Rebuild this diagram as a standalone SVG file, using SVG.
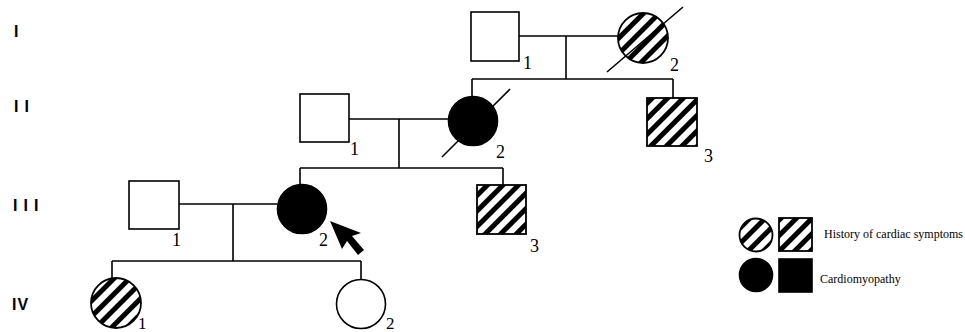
<svg xmlns="http://www.w3.org/2000/svg" width="965" height="332" viewBox="0 0 965 332">
<defs>
<pattern id="hatch" patternUnits="userSpaceOnUse" width="11" height="11" patternTransform="rotate(45)">
<rect width="11" height="11" fill="#fff"/>
<rect width="5" height="11" fill="#000"/>
</pattern>
</defs>
<style>
.line{stroke:#000;stroke-width:1.6;fill:none}
.open{fill:#fff;stroke:#000;stroke-width:1.6}
.hatch{fill:url(#hatch);stroke:#000;stroke-width:1.8}
.solid{fill:#000;stroke:#000;stroke-width:1.6}
.num{font-family:"Liberation Serif",serif;font-size:18px;fill:#000}
.gen{font-family:"Liberation Sans",Arial,sans-serif;font-size:16px;font-weight:bold;fill:#000;letter-spacing:6px}
.leg{font-family:"Liberation Serif",serif;font-size:12px;fill:#000}
</style>
<rect width="965" height="332" fill="#fff"/>
<g id="generations">
<text class="gen" x="14" y="37">I</text>
<text class="gen" x="14" y="112">II</text>
<text class="gen" x="13" y="211">III</text>
<text class="gen" x="12" y="310" style="letter-spacing:1px">IV</text>
</g>
<g id="connectors">
<path class="line" d="M519 36 H618 M566 36 V79 M472 79 H673 M472 79 V97 M673 79 V98"/>
<path class="line" d="M349 119 H449 M399 119 V168 M300 168 H503 M300 168 V184 M503 168 V185"/>
<path class="line" d="M179 204 H277 M233 204 V261 M112 261 H361 M112 261 V278 M361 261 V280"/>
</g>
<g id="I-1"><rect class="open" x="471" y="12" width="48" height="49"/><text class="num" x="523" y="69">1</text></g>
<g id="I-2"><circle class="hatch" cx="643" cy="38" r="25"/><line class="line" x1="607" y1="72" x2="683" y2="7"/><text class="num" x="670" y="71">2</text></g>
<g id="II-1"><rect class="open" x="300" y="94" width="49" height="48"/><text class="num" x="350" y="155">1</text></g>
<g id="II-2"><circle class="solid" cx="473" cy="121" r="24.5"/><line class="line" x1="442" y1="157" x2="510" y2="89"/><text class="num" x="496" y="158">2</text></g>
<g id="II-3"><rect class="hatch" x="647" y="98" width="50" height="48"/><text class="num" x="704" y="162">3</text></g>
<g id="III-1"><rect class="open" x="129" y="181" width="50" height="48"/><text class="num" x="172" y="246">1</text></g>
<g id="III-2"><circle class="solid" cx="302" cy="209" r="24.5"/><text class="num" x="319" y="246">2</text>
<polygon fill="#000" points="330,221 342,249 347,241 358,255 364,250 352,236 361,233"/></g>
<g id="III-3"><rect class="hatch" x="477" y="185" width="49" height="49"/><text class="num" x="530" y="252">3</text></g>
<g id="IV-1"><circle class="hatch" cx="116" cy="303" r="25"/><text class="num" x="138" y="329" style="font-size:17px">1</text></g>
<g id="IV-2"><circle class="open" cx="361" cy="304" r="24.5"/><text class="num" x="386" y="329" style="font-size:17px">2</text></g>
<g id="legend">
<circle class="hatch" cx="756" cy="235" r="16.5"/>
<rect class="hatch" x="779" y="218" width="33" height="33"/>
<text class="leg" x="824" y="238">History of cardiac symptoms</text>
<circle class="solid" cx="756" cy="275" r="16.5"/>
<rect class="solid" x="779" y="259" width="33" height="33"/>
<text class="leg" x="820" y="283">Cardiomyopathy</text>
</g>
</svg>
